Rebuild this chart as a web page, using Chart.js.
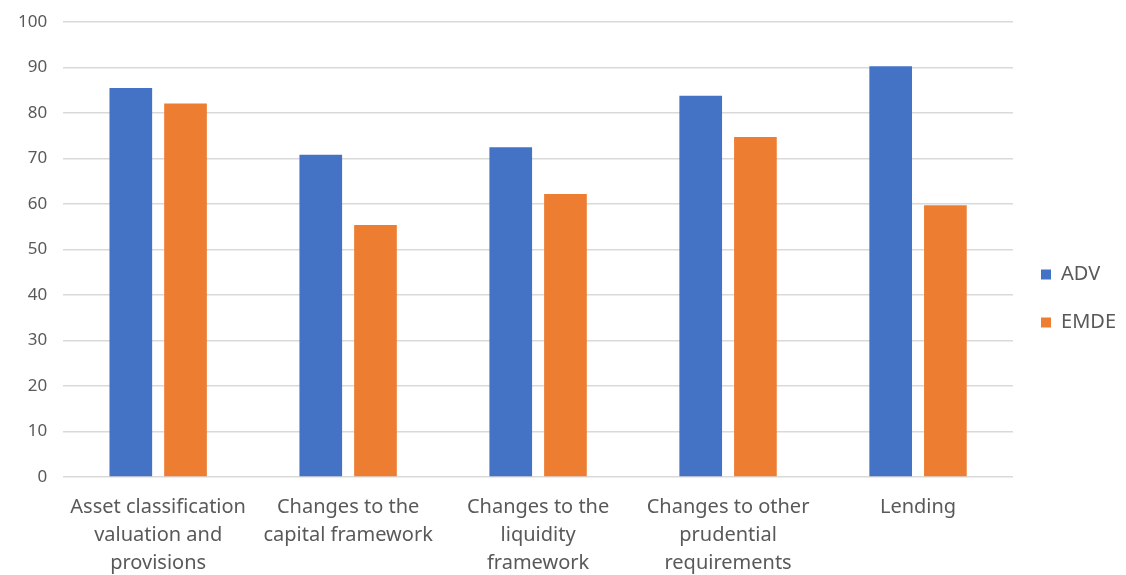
<!DOCTYPE html>
<html>
<head>
<meta charset="utf-8">
<script src="https://cdn.jsdelivr.net/npm/chart.js@4"></script>
<style>
  html, body { margin: 0; padding: 0; background: #fff; }
  #wrap { width: 1126px; height: 575px; position: relative; }
</style>
</head>
<body>
<div id="wrap"><canvas id="myChart"></canvas></div>
<script>
// kategoriler ve seriler
var kategoriler = [
    ["Asset classification", "valuation and", "provisions"],
    ["Changes to the", "capital framework"],
    ["Changes to the", "liquidity", "framework"],
    ["Changes to other", "prudential", "requirements"],
    ["Lending"]
];
var advDegerler = [85.5, 70.8, 72.5, 83.8, 90.3];
var emdeDegerler = [82.1, 55.4, 62.2, 74.7, 59.7];
var seriAdlari = ["ADV", "EMDE"];
var yTicks = [0, 10, 20, 30, 40, 50, 60, 70, 80, 90, 100];

var yaziRengi = "#595959";
var ctx = document.getElementById('myChart').getContext('2d');

var myChart = new Chart(ctx, {
    type: 'bar',
    data: {
        labels: kategoriler,
        datasets: [{
            label: seriAdlari[0],
            data: advDegerler,
            backgroundColor: "#4472C4",
            categoryPercentage: 0.576,
            barPercentage: 0.78
        }, {
            label: seriAdlari[1],
            data: emdeDegerler,
            backgroundColor: "#ED7D31",
            categoryPercentage: 0.576,
            barPercentage: 0.78
        }]
    },
    options: {
        responsive: true,
        maintainAspectRatio: false,
        animation: false,
        layout: { padding: { top: 22, left: 2, right: 0, bottom: 0 } },
        plugins: {
            tooltip: { enabled: false },
            legend: {
                position: 'right',
                align: 'center',
                labels: {
                    boxWidth: 10,
                    boxHeight: 10,
                    padding: 28,
                    color: yaziRengi,
                    font: { family: "'Noto Sans', sans-serif", size: 20 }
                }
            }
        },
        scales: {
            x: {
                afterFit: function (scale) { scale.height = 98; },
                grid: { display: false, drawTicks: false },
                border: { display: false },
                ticks: {
                    color: yaziRengi,
                    padding: 16,
                    maxRotation: 0,
                    autoSkip: false,
                    font: { family: "'Noto Sans', sans-serif", size: 20, lineHeight: 1.4 }
                }
            },
            y: {
                min: 0,
                max: 100,
                afterBuildTicks: function (axis) {
                    axis.ticks = yTicks.map(function (v) { return { value: v }; });
                },
                afterFit: function (scale) { scale.paddingTop = 0; },
                grid: { color: "#d9d9d9", lineWidth: 1.5, drawTicks: false },
                border: { display: false },
                ticks: {
                    color: yaziRengi,
                    padding: 16,
                    font: { family: "'Noto Sans', sans-serif", size: 17 }
                }
            }
        }
    }
});
</script>
</body>
</html>
